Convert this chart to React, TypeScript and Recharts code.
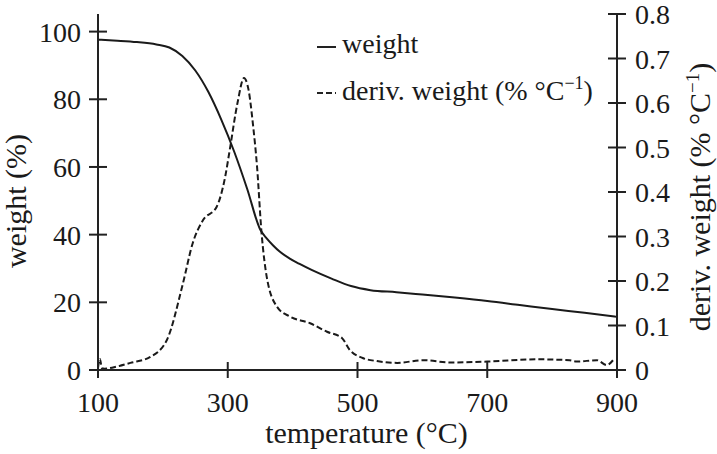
import { Label, Legend, Line, LineChart, XAxis, YAxis } from "recharts";

const FONT = '"Liberation Serif", "Times New Roman", serif';

// weight curve (%)
const weightTemps = [100, 130, 160, 190, 210, 230, 250, 270, 290, 310, 330, 350, 360, 370, 380, 395, 410, 430, 460, 490, 520, 560, 600, 650, 700, 750, 800, 850, 900];
const weightValues = [97.6, 97.3, 96.9, 96.2, 95.3, 92.8, 88.5, 82.2, 74, 64.5, 53.5, 41.5, 38.9, 36.8, 35, 33, 31.4, 29.5, 27, 24.8, 23.6, 23, 22.3, 21.4, 20.4, 19.2, 18, 16.9, 15.7];

// derivative weight curve (% per °C)
const derivTemps = [100, 103, 106, 110, 130, 150, 180, 206, 231, 246, 262, 283, 296, 303, 315, 325, 332, 339, 345, 352, 360, 376, 396, 427, 453, 476, 488, 508, 530, 561, 601, 643, 700, 777, 827, 838, 869, 884, 895];
const derivValues = [0.005, 0.025, 0.004, 0.003, 0.008, 0.016, 0.029, 0.067, 0.195, 0.285, 0.337, 0.367, 0.434, 0.494, 0.6, 0.656, 0.63, 0.55, 0.46, 0.31, 0.21, 0.142, 0.12, 0.105, 0.086, 0.072, 0.045, 0.027, 0.02, 0.016, 0.022, 0.017, 0.019, 0.024, 0.022, 0.019, 0.022, 0.011, 0.024];

const tempTicks = [100, 300, 500, 700, 900];
const weightTicks = [0, 20, 40, 60, 80, 100];
const derivTicks = [0, 0.1, 0.2, 0.3, 0.4, 0.5, 0.6, 0.7, 0.8];

const weightData = weightTemps.map((t, i) => ({ t, w: weightValues[i] }));
const derivData = derivTemps.map((t, i) => ({ t, d: derivValues[i] }));

const txt = { fontFamily: FONT, fontSize: 28, fill: "#1a1a1a" };
const title = { ...txt, fontSize: 30 };

function BottomTick({ x, y, payload }: any) {
  return (
    <g>
      <line x1={x} x2={x} y1={y - 8} y2={y + 8} stroke="#222" strokeWidth={2} />
      <text x={x} y={y + 42} textAnchor="middle" {...txt}>{payload.value}</text>
    </g>
  );
}

function LeftTick({ x, y, payload }: any) {
  return (
    <g>
      <line x1={x - 9} x2={x + 9} y1={y} y2={y} stroke="#222" strokeWidth={2} />
      <text x={x - 17} y={y + 10} textAnchor="end" {...txt}>{payload.value}</text>
    </g>
  );
}

function RightTick({ x, y, payload }: any) {
  const v = payload.value === 0 ? "0" : Number(payload.value).toFixed(1);
  return (
    <g>
      <line x1={x - 9} x2={x + 9} y1={y} y2={y} stroke="#222" strokeWidth={2} />
      <text x={x + 18} y={y + 10} textAnchor="start" {...txt}>{v}</text>
    </g>
  );
}

function LegendBox() {
  return (
    <svg width={320} height={100} style={{ display: "block" }}>
      <line x1={17} x2={36} y1={27} y2={27} stroke="#222" strokeWidth={2} />
      <text x={42} y={33} {...txt}>weight</text>
      <line x1={17} x2={36} y1={73} y2={73} stroke="#222" strokeWidth={2} strokeDasharray="6 3" />
      <text x={42} y={80} {...txt}>
        deriv. weight (% °C
        <tspan dy={-11} fontSize={18}>−1</tspan>
        <tspan dy={11}>)</tspan>
      </text>
    </svg>
  );
}

export default function App() {
  return (
    <div style={{ position: "absolute", left: 0, top: 0, width: 717, height: 454, background: "#fff" }}>
      <LineChart width={717} height={454} margin={{ top: 14, right: 0, bottom: 0, left: 0 }}>
        <XAxis
          xAxisId="bottom"
          dataKey="t"
          type="number"
          domain={[100, 900]}
          ticks={tempTicks}
          height={84}
          tickSize={0}
          tickMargin={0}
          tickLine={false}
          axisLine={{ stroke: "#222", strokeWidth: 2 }}
          tick={BottomTick}
          allowDuplicatedCategory={false}
        >
          <Label
            content={({ viewBox }: any) => (
              <text x={viewBox.x + viewBox.width / 2 + 9} y={viewBox.y + 73} textAnchor="middle" {...title}>
                temperature (°C)
              </text>
            )}
          />
        </XAxis>
        <XAxis
          xAxisId="top"
          orientation="top"
          dataKey="t"
          type="number"
          domain={[100, 900]}
          height={0}
          tick={false}
          tickLine={false}
          axisLine={{ stroke: "#222", strokeWidth: 2 }}
        />
        <YAxis
          yAxisId="left"
          domain={[0, 105.2]}
          ticks={weightTicks}
          width={98}
          tickSize={0}
          tickMargin={0}
          tickLine={false}
          axisLine={{ stroke: "#222", strokeWidth: 2 }}
          tick={LeftTick}
        >
          <Label
            content={({ viewBox }: any) => {
              const x = viewBox.x + 26;
              const y = viewBox.y + viewBox.height / 2 + 9;
              return (
                <text x={x} y={y} textAnchor="middle" transform={`rotate(-90, ${x}, ${y})`} {...title}>
                  weight (%)
                </text>
              );
            }}
          />
        </YAxis>
        <YAxis
          yAxisId="right"
          orientation="right"
          domain={[0, 0.8]}
          ticks={derivTicks}
          width={100}
          tickSize={0}
          tickMargin={0}
          tickLine={false}
          axisLine={{ stroke: "#222", strokeWidth: 2 }}
          tick={RightTick}
        >
          <Label
            content={({ viewBox }: any) => {
              const x = viewBox.x + 93;
              const y = viewBox.y + viewBox.height / 2 + 5;
              return (
                <text x={x} y={y} textAnchor="middle" transform={`rotate(-90, ${x}, ${y})`} {...title}>
                  deriv. weight (% °C
                  <tspan dy={-11} fontSize={19}>−1</tspan>
                  <tspan dy={11}>)</tspan>
                </text>
              );
            }}
          />
        </YAxis>
        <Legend
          layout="vertical"
          align="center"
          verticalAlign="middle"
          wrapperStyle={{ top: 20, left: 300, width: 320, height: 100 }}
          content={() => <LegendBox />}
        />
        <Line
          xAxisId="bottom"
          yAxisId="left"
          data={weightData}
          dataKey="w"
          type="monotone"
          stroke="#1a1a1a"
          strokeWidth={2}
          dot={false}
          activeDot={false}
          isAnimationActive={false}
        />
        <Line
          xAxisId="bottom"
          yAxisId="right"
          data={derivData}
          dataKey="d"
          type="monotone"
          stroke="#1a1a1a"
          strokeWidth={2}
          strokeDasharray="6 3"
          dot={false}
          activeDot={false}
          isAnimationActive={false}
        />
      </LineChart>
    </div>
  );
}
